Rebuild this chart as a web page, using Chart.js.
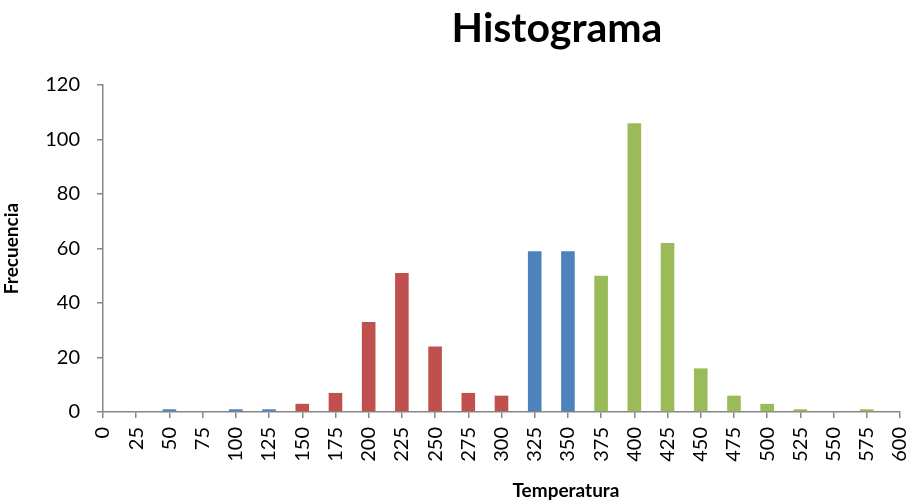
<!DOCTYPE html>
<html>
<head>
<meta charset="utf-8">
<script src="https://cdn.jsdelivr.net/npm/chart.js@4/dist/chart.umd.min.js"></script>
<style>
  html, body { margin: 0; padding: 0; background: #fff; }
  #wrap { position: relative; width: 912px; height: 503px; }
  #titulo {
    position: absolute; left: 0; top: 2px; width: 1114px;
    text-align: center; font: bold 41px Lato, sans-serif; color: #000;
  }
  #tituloX {
    position: absolute; left: 0; top: 478px; width: 1132px;
    text-align: center; font: bold 19px Lato, sans-serif; color: #000;
  }
</style>
</head>
<body>
<div id="wrap">
  <canvas id="histChart" width="912" height="503"></canvas>
  <div id="titulo">Histograma</div>
  <div id="tituloX">Temperatura</div>
</div>
<script>
// Temperature classes and counts
var temperaturas = ['0','25','50','75','100','125','150','175','200','225','250','275','300',
                    '325','350','375','400','425','450','475','500','525','550','575','600'];
var frecuencias = [0, 0, 1, 0, 1, 1, 3, 7, 33, 51, 24, 7, 6,
                   59, 59, 50, 106, 62, 16, 6, 3, 1, 0, 1, 0];
var yTicks = [0, 20, 40, 60, 80, 100, 120];

var AZUL = '#4F81BD', ROJO = '#C0504D', VERDE = '#9BBB59';
var GRIS = '#868686';

// colour of each bar depends on the temperature range
function colorBarra(t) {
    t = Number(t);
    if (t >= 150 && t <= 300) return ROJO;
    if (t >= 375) return VERDE;
    return AZUL;
}

var fuente = 'Lato, sans-serif';

var ctx = document.getElementById('histChart');
new Chart(ctx, {
    type: 'bar',
    data: {
        labels: temperaturas,
        datasets: [{
            data: frecuencias,
            backgroundColor: temperaturas.map(colorBarra),
            barPercentage: 0.41,
            categoryPercentage: 1.0
        }]
    },
    options: {
        responsive: false,
        animation: false,
        layout: { padding: { left: 0, right: 0, top: 85, bottom: 0 } },
        plugins: {
            legend: { display: false },
            tooltip: { enabled: false }
        },
        scales: {
            x: {
                offset: false,
                afterFit: function (scale) {
                    scale.height = 91;
                    scale.paddingRight = 12;
                },
                grid: { offset: false, drawOnChartArea: false, color: GRIS, tickLength: 6, lineWidth: 1.5 },
                border: { color: GRIS, width: 1.5 },
                ticks: { color: '#000', font: { family: fuente, size: 20 }, maxRotation: 90, minRotation: 90, autoSkip: false, padding: 9 }
            },
            y: {
                min: 0, max: 120,
                afterFit: function (scale) { scale.width = 103; },
                afterBuildTicks: function (axis) {
                    axis.ticks = yTicks.map(function (v) { return { value: v }; });
                },
                grid: { drawOnChartArea: false, color: GRIS, tickLength: 6, lineWidth: 1.5 },
                border: { color: GRIS, width: 1.5 },
                ticks: { color: '#000', font: { family: fuente, size: 20 }, padding: 17 },
                title: { display: true, text: 'Frecuencia', color: '#000', font: { family: fuente, size: 19, weight: 'bold' }, padding: { top: 0, bottom: 0 } }
            }
        }
    }
});
</script>
</body>
</html>
